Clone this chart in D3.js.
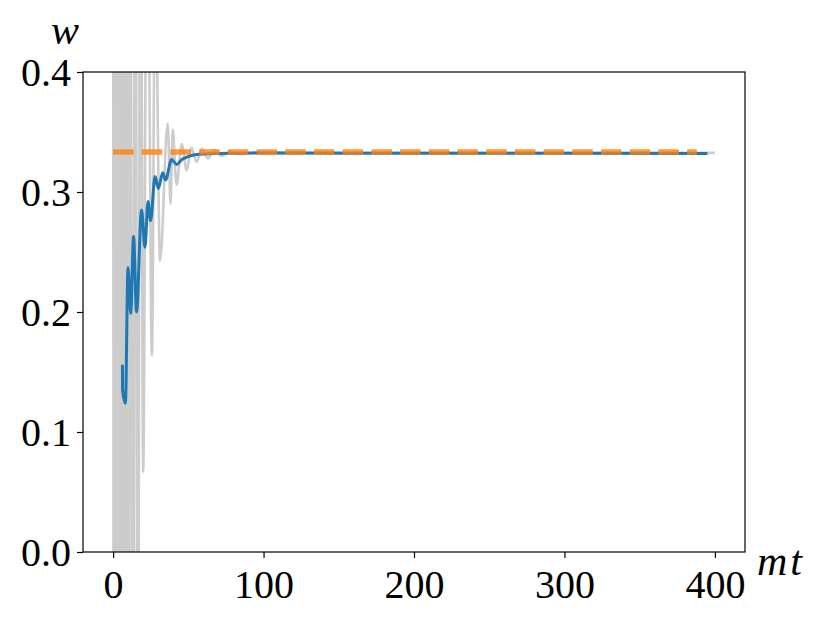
<!DOCTYPE html>
<html>
    <head>
        <title>w vs mt</title>
        <meta charset="utf-8">
        <style>
        body { margin: 0; background: #fff; }
        .tick text { font-family: "Liberation Serif", "DejaVu Serif", serif; font-size: 40px; fill: #000; }
        .tick line { stroke: #000; stroke-width: 1.2px; }
        .lbl { font-family: "Liberation Serif", "DejaVu Serif", serif; font-style: italic; font-size: 42px; }
        </style>
        <script src="https://cdn.jsdelivr.net/npm/d3@7"></script>
    </head>
    <body>
        <svg width="830" height="623"></svg>
        <script>
// values
// gray: raw w(mt), wild at the start then settling on 1/3
var rawT = [0, 0.8, 1.9, 3.0, 4.1, 5.2, 6.4, 7.5, 8.8, 9.9, 11.3, 13.0, 14.7, 16.4, 18.2, 20.0,
            22.6, 25.8, 28.0, 31.2, 36.3, 38.2, 39.6, 42.2, 45.6, 48.9, 52, 55.5, 59, 63, 67, 72, 78, 85, 95, 150, 250, 400];
var rawW = [0.9, -0.9, 1.0, -0.8, 0.95, -0.7, 0.9, -0.6, 0.85, -0.5, 0.8, -0.4, 0.75, -0.3, 0.7, 0.067,
            0.62, 0.164, 0.5, 0.243, 0.357, 0.29, 0.352, 0.306, 0.34, 0.318, 0.337, 0.325, 0.336, 0.328, 0.335, 0.330, 0.334, 0.3315, 0.3332, 0.3328, 0.3326, 0.3326];

// blue: running average
var avgT = [6.2, 6.3, 8.2, 9.9, 11.7, 13.6, 15.6, 18.9, 21.2, 23.2, 24.9, 27.9, 30.1, 33.0, 34.8,
            38.9, 42.3, 45.6, 48.9, 54.4, 67.7, 99, 200, 300, 395];
var avgW = [0.156, 0.135, 0.124, 0.237, 0.199, 0.263, 0.200, 0.285, 0.254, 0.292, 0.276, 0.313, 0.303, 0.316, 0.310,
            0.327, 0.323, 0.327, 0.329, 0.331, 0.332, 0.3325, 0.3323, 0.3322, 0.332];

// orange dashed: exact value 1/3
var exactT = [0, 388];
var exactW = [1 / 3, 1 / 3];

var xTicks = [0, 100, 200, 300, 400];
var yTicks = [0.0, 0.1, 0.2, 0.3, 0.4];

var svg = d3.select("svg");
var pLeft = 83, pRight = 745, pTop = 72, pBottom = 552;

var x = d3.scaleLinear().domain([-20, 420]).range([pLeft, pRight]);
var y = d3.scaleLinear().domain([0, 0.4]).range([pBottom, pTop]);

svg.append("clipPath").attr("id", "plotclip")
    .append("rect")
    .attr("x", pLeft).attr("y", pTop)
    .attr("width", pRight - pLeft).attr("height", pBottom - pTop);

var plot = svg.append("g").attr("clip-path", "url(#plotclip)");

function zip(ts, ws) {
    return ts.map(function(t, i) { return [t, ws[i]]; });
}

var line = d3.line()
    .x(function(d) { return x(d[0]); })
    .y(function(d) { return y(d[1]); })
    .curve(d3.curveMonotoneX);

plot.append("path")
    .attr("d", line(zip(rawT, rawW)))
    .attr("fill", "none")
    .attr("stroke", "#cccccc")
    .attr("stroke-width", 2.6);

plot.append("path")
    .attr("d", line(zip(avgT, avgW)))
    .attr("fill", "none")
    .attr("stroke", "#1f77b4")
    .attr("stroke-width", 3);

plot.append("path")
    .attr("d", d3.line().x(function(d) { return x(d[0]); }).y(function(d) { return y(d[1]); })(zip(exactT, exactW)))
    .attr("fill", "none")
    .attr("stroke", "#ff7f0e")
    .attr("stroke-opacity", 0.8)
    .attr("stroke-width", 5.6)
    .attr("stroke-dasharray", "20.5 8.2");

// axes
var xAxis = svg.append("g")
    .attr("transform", "translate(0," + pBottom + ")")
    .call(d3.axisBottom(x).tickValues(xTicks).tickSize(6).tickPadding(8).tickFormat(d3.format("d")));
xAxis.select(".domain").remove();
xAxis.selectAll(".tick text").attr("dy", "0.8em");

var yAxis = svg.append("g")
    .attr("transform", "translate(" + pLeft + ",0)")
    .call(d3.axisLeft(y).tickValues(yTicks).tickSize(6).tickPadding(6).tickFormat(d3.format(".1f")));
yAxis.select(".domain").remove();
yAxis.selectAll(".tick text").attr("dy", "0.34em");

svg.append("rect")
    .attr("x", pLeft).attr("y", pTop)
    .attr("width", pRight - pLeft).attr("height", pBottom - pTop)
    .attr("fill", "none")
    .attr("stroke", "#000")
    .attr("stroke-width", 1.2);

svg.append("text").attr("class", "lbl")
    .attr("x", 51).attr("y", 44)
    .text("w");

svg.append("text").attr("class", "lbl")
    .attr("x", 757).attr("y", 575)
    .attr("font-size", "46px")
    .attr("letter-spacing", "3px")
    .text("mt");
        </script>
    </body>
</html>
